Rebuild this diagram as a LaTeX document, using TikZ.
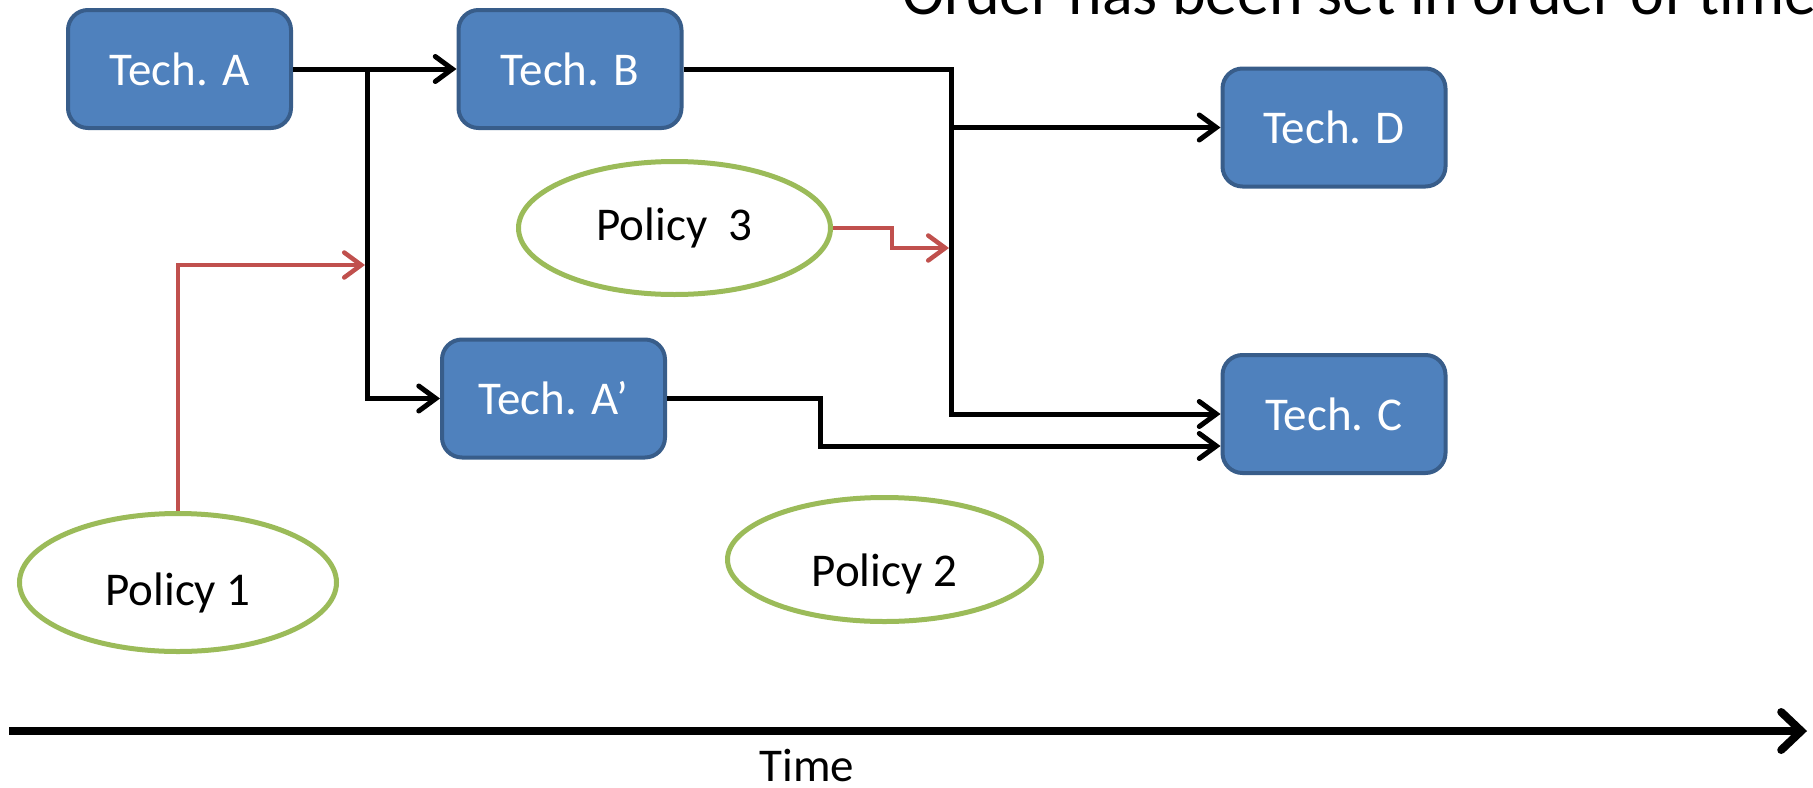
\documentclass[tikz,border=0pt]{standalone}
\usepackage{fontspec}
\setmainfont{Carlito}
\usetikzlibrary{arrows.meta,shapes.geometric}
\definecolor{techfill}{HTML}{4F81BD}
\definecolor{techline}{HTML}{385D8A}
\definecolor{policyline}{HTML}{9BBB59}
\definecolor{policyarrow}{HTML}{C0504D}
% lower a label inside its shape without changing the shape's size
\newcommand{\lowered}[2]{\raisebox{-#1}[\height][\depth]{#2}}
\begin{document}
\begin{tikzpicture}[x=0.5pt,y=-0.5pt,
  tech/.style={draw=techline, fill=techfill, line width=2pt, rounded corners=10pt,
    minimum width=111.5pt, minimum height=59pt, inner sep=0pt, text=white,
    font=\fontsize{23.5}{28}\selectfont},
  policy/.style={ellipse, draw=policyline, fill=white, line width=2.5pt, inner sep=0pt,
    font=\fontsize{23.5}{28}\selectfont},
  flow/.style={draw=black, line width=2.5pt, line join=miter,
    -{Straight Barb[length=8.5pt,width=12.5pt,line cap=round]}},
  redflow/.style={flow, draw=policyarrow, line width=2.25pt},
  axis/.style={draw=black, line width=4pt,
    -{Straight Barb[length=10pt,width=19pt,line cap=round]}},
  label/.style={font=\fontsize{23.5}{28}\selectfont, inner sep=0pt}
]
\useasboundingbox (0,0) rectangle (1813,787);

% technologies
\node[tech] (techA)  at (179.5,69)   {Tech. A};
\node[tech] (techB)  at (570,69)     {Tech. B};
\node[tech] (techD)  at (1334,127.5) {Tech. D};
\node[tech] (techA2) at (553.5,398.5) {Tech. A’};
\node[tech] (techC)  at (1334,414)   {Tech. C};

% policies
\node[policy, minimum width=156pt, minimum height=66.5pt] (pol3) at (674.5,228) {Policy~~3};
\node[policy, minimum width=158.5pt, minimum height=69pt] (pol1) at (178,582.5) {\lowered{5pt}{Policy 1}};
\node[policy, minimum width=157pt, minimum height=62pt]   (pol2) at (884.5,559.5) {\lowered{7pt}{Policy 2}};

% junctions and bends
\coordinate (jA) at (367,69);
\coordinate (jB) at (951,69);
\coordinate (r1) at (365,265);
\coordinate (s3) at (892,238);
\coordinate (r3) at (949,248);
\coordinate (s2) at (820,420);

% technology flows
\draw[flow] (techA.east) -- (techB.west);
\draw[flow] (jA) |- (techA2.west);
\draw[flow] (techB.east) -- (jB) |- (techC.west);
\draw[flow] (jB |- techD.west) -- (techD.west);
\draw[flow] (techA2.east) -| (s2) |- ([yshift=-16pt]techC.west);

% policy influences
\draw[redflow] (pol1.north) |- (r1);
\draw[redflow] (pol3.east) -| (s3) |- (r3);

% time axis
\coordinate (t0) at (9,731);
\coordinate (t1) at (1807,731);
\draw[axis] (t0) -- (t1);
\node[label, anchor=base] (time) at (807,781) {Time};

% heading
\node[anchor=base west, font=\fontsize{32}{38}\selectfont, inner sep=0pt] (head) at (902,14)
  {Order has been set in order of time};
\end{tikzpicture}
\end{document}
